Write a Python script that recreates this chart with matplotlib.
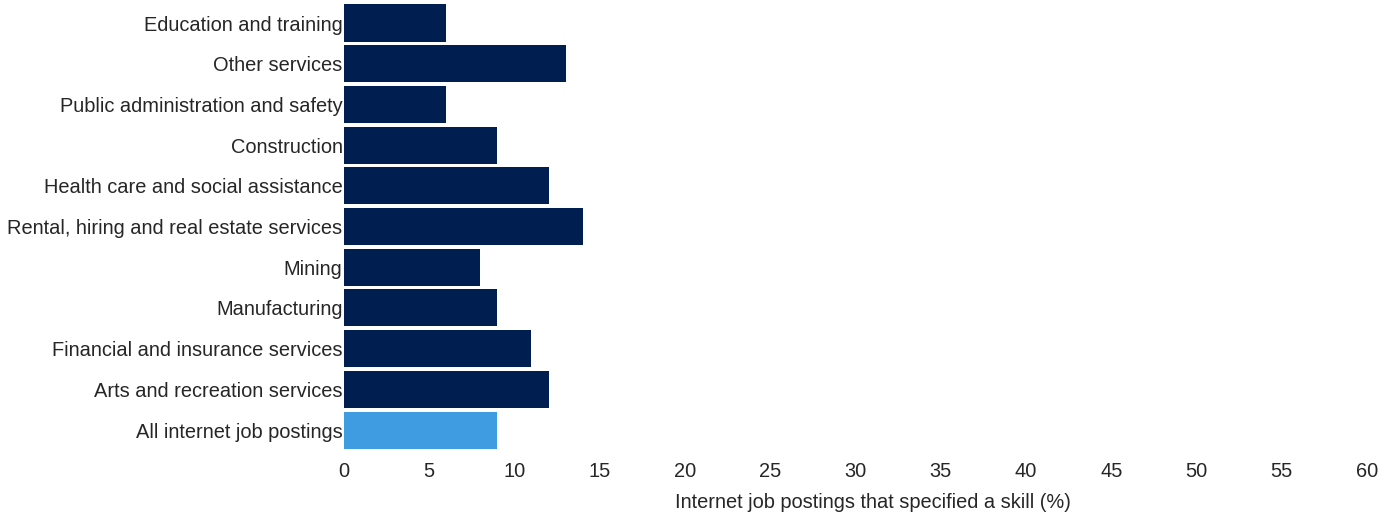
import numpy as np
import matplotlib
matplotlib.use("Agg")
import matplotlib.pyplot as plt

plt.rcParams['font.family'] = ['Liberation Sans', 'DejaVu Sans']

industries = ['Education and training', 'Other services', 'Public administration and safety',
              'Construction', 'Health care and social assistance',
              'Rental, hiring and real estate services', 'Mining', 'Manufacturing',
              'Financial and insurance services', 'Arts and recreation services',
              'All internet job postings']
share = [6, 13, 6, 9, 12, 14, 8, 9, 11, 12, 9]

navy = '#001E50'
light = '#3F9CE0'
colors = [navy] * (len(industries) - 1) + [light]
txt = '#262626'

fig = plt.figure(figsize=(13.97, 5.14), dpi=100)
ax = fig.add_axes([0.2462, 0.1198, 0.7323, 0.879])

y = np.arange(len(industries))
ax.barh(y, share, height=0.91, color=colors)
ax.set_ylim(len(industries) - 0.45, -0.55)
ax.set_xlim(0, 60)

ax.set_yticks(y)
ax.set_yticklabels(industries, fontsize=14.4, color=txt)
ax.set_xticks(np.arange(0, 61, 5))
ax.tick_params(axis='x', labelsize=14.4, labelcolor=txt, length=0, pad=7)
ax.tick_params(axis='y', length=0, pad=1)

ax.set_xlabel('Internet job postings that specified a skill (%)', fontsize=14.4, color=txt)
ax.xaxis.set_label_coords(0.517, -0.09)

for s in ax.spines.values():
    s.set_visible(False)

fig.savefig('out.png', dpi=100)
